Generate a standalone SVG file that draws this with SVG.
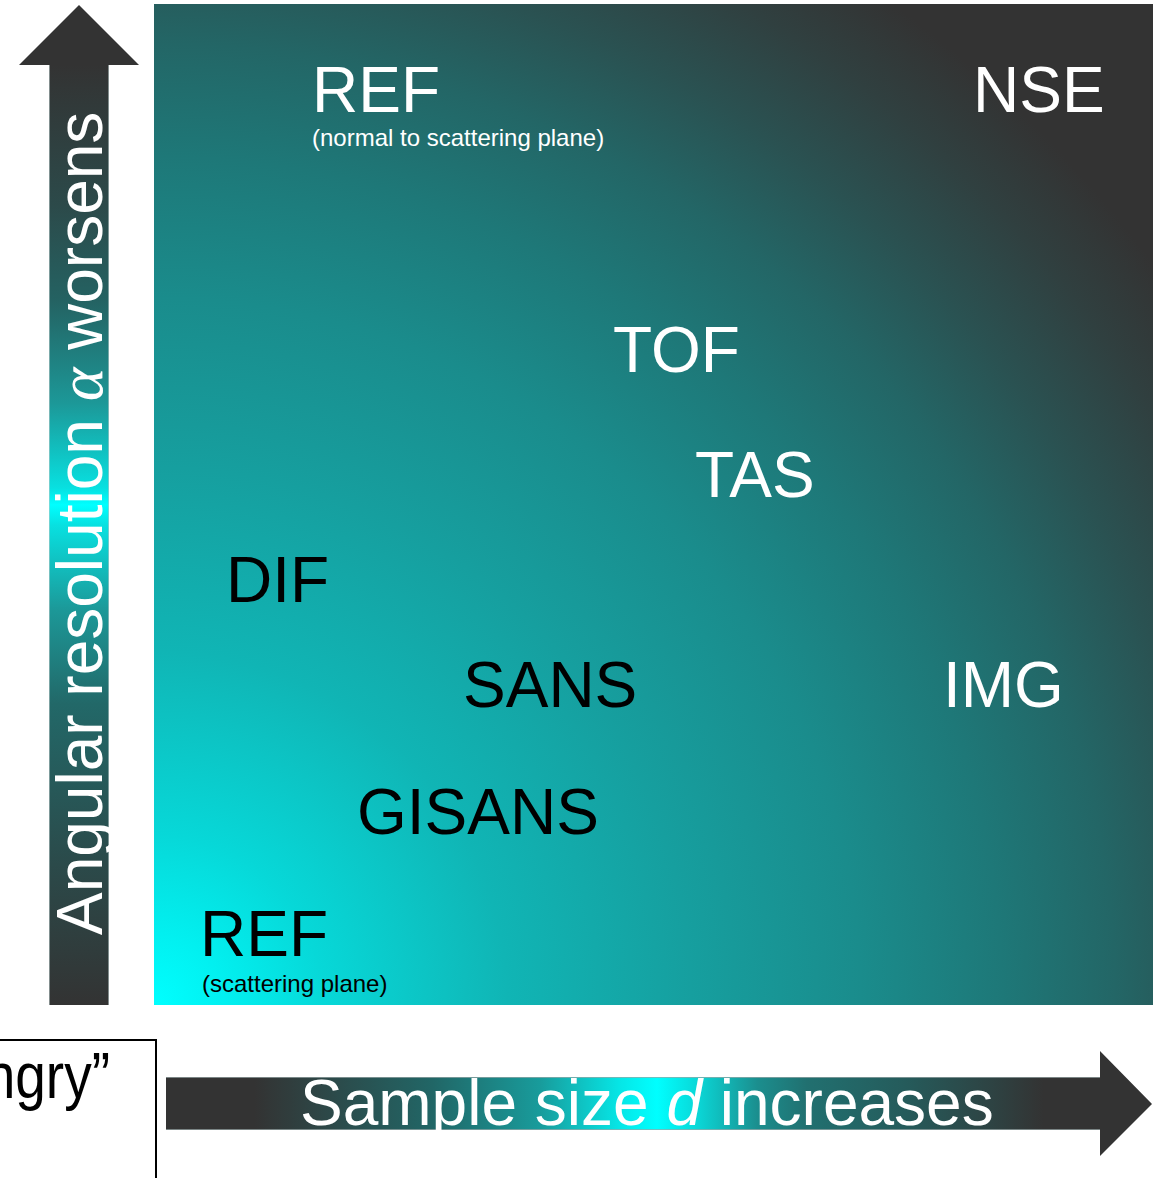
<svg xmlns="http://www.w3.org/2000/svg" width="1171" height="1178" viewBox="0 0 1171 1178">
<style>
.lbl{font-family:"Liberation Sans",Arial,sans-serif;font-size:64px}
.w{fill:#ffffff}
.k{fill:#000000}
.sub{font-family:"Liberation Sans",Arial,sans-serif;font-size:24px}
.ax{font-family:"Liberation Sans",Arial,sans-serif;font-size:64px;fill:#ffffff}
.it{font-style:italic}
</style>
<defs>
<radialGradient id="bg" gradientUnits="userSpaceOnUse" cx="154" cy="1005" r="1414">
<stop offset="0" stop-color="#00ffff"/>
<stop offset="0.05" stop-color="#02f0f0"/>
<stop offset="0.12" stop-color="#07d8d8"/>
<stop offset="0.25" stop-color="#10b5b5"/>
<stop offset="0.38" stop-color="#169f9f"/>
<stop offset="0.5" stop-color="#1a8c8c"/>
<stop offset="0.6" stop-color="#1e7878"/>
<stop offset="0.68" stop-color="#236666"/>
<stop offset="0.75" stop-color="#2a5252"/>
<stop offset="0.82" stop-color="#304040"/>
<stop offset="0.88" stop-color="#333333"/>
<stop offset="1" stop-color="#333333"/>
</radialGradient>
<linearGradient id="vg" gradientUnits="userSpaceOnUse" x1="0" y1="65" x2="0" y2="1005">
<stop offset="0" stop-color="#333333"/>
<stop offset="0.15" stop-color="#2c4a4a"/>
<stop offset="0.25" stop-color="#246262"/>
<stop offset="0.36" stop-color="#1c9898"/>
<stop offset="0.45" stop-color="#08e0e0"/>
<stop offset="0.468" stop-color="#00ffff"/>
<stop offset="0.49" stop-color="#08e0e0"/>
<stop offset="0.58" stop-color="#1c9898"/>
<stop offset="0.68" stop-color="#226868"/>
<stop offset="0.85" stop-color="#2b4a4a"/>
<stop offset="1" stop-color="#333333"/>
</linearGradient>
<linearGradient id="hg" gradientUnits="userSpaceOnUse" x1="166" y1="0" x2="1152" y2="0">
<stop offset="0" stop-color="#333333"/>
<stop offset="0.09" stop-color="#333333"/>
<stop offset="0.15" stop-color="#2e4444"/>
<stop offset="0.27" stop-color="#216666"/>
<stop offset="0.38" stop-color="#189c9c"/>
<stop offset="0.46" stop-color="#06e6e6"/>
<stop offset="0.498" stop-color="#00ffff"/>
<stop offset="0.54" stop-color="#0ad6d6"/>
<stop offset="0.6" stop-color="#1b8e8e"/>
<stop offset="0.65" stop-color="#217070"/>
<stop offset="0.75" stop-color="#255b5b"/>
<stop offset="0.84" stop-color="#2e4242"/>
<stop offset="0.89" stop-color="#333333"/>
<stop offset="1" stop-color="#333333"/>
</linearGradient>
</defs>
<rect width="1171" height="1178" fill="#ffffff"/>
<g id="plot">
<rect x="154" y="4" width="999" height="1001" fill="url(#bg)"/>
</g>
<g id="connectors">
<g id="y-axis">
<path d="M49,1005 V65 H19 L79,5 L139,65 H109 V1005 Z" fill="url(#vg)"/>
<line x1="49.5" y1="65" x2="49.5" y2="1005" stroke="#b8c8c8" stroke-width="1" opacity="0.6"/>
<line x1="108.5" y1="65" x2="108.5" y2="1005" stroke="#b8c8c8" stroke-width="1" opacity="0.6"/>
<text class="ax" transform="translate(102,935) rotate(-90)">Angular resolution <tspan class="it" font-family="'Liberation Serif',serif">α</tspan> worsens</text>
</g>
<g id="x-axis">
<path d="M166,1077 H1100 V1051 L1152,1104 L1100,1156 V1130 H166 Z" fill="url(#hg)"/>
<line x1="166" y1="1077.5" x2="1100" y2="1077.5" stroke="#9aa8a8" stroke-width="1" opacity="0.7"/>
<line x1="166" y1="1129.5" x2="1100" y2="1129.5" stroke="#9aa8a8" stroke-width="1" opacity="0.7"/>
<text class="ax" x="300" y="1125">Sample size <tspan class="it">d</tspan> increases</text>
</g>
</g>
<g id="legend-box">
<rect x="-10" y="1040" width="166" height="150" fill="none" stroke="#000000" stroke-width="2"/>
<text class="lbl k" transform="translate(110,1098) scale(0.86,1)" text-anchor="end">ngry”</text>
</g>
<g id="node-ref-normal">
<text class="lbl w" x="312" y="112">REF</text>
<text class="sub w" x="312" y="146">(normal to scattering plane)</text>
</g>
<g id="node-nse"><text class="lbl w" x="973" y="112">NSE</text></g>
<g id="node-tof"><text class="lbl w" x="613" y="372">TOF</text></g>
<g id="node-tas"><text class="lbl w" x="695" y="497">TAS</text></g>
<g id="node-dif"><text class="lbl k" x="226" y="602">DIF</text></g>
<g id="node-sans"><text class="lbl k" x="463" y="707">SANS</text></g>
<g id="node-img"><text class="lbl w" x="943" y="707">IMG</text></g>
<g id="node-gisans"><text class="lbl k" x="357" y="834">GISANS</text></g>
<g id="node-ref-scattering">
<text class="lbl k" x="200" y="956">REF</text>
<text class="sub k" x="202" y="992">(scattering plane)</text>
</g>
</svg>
